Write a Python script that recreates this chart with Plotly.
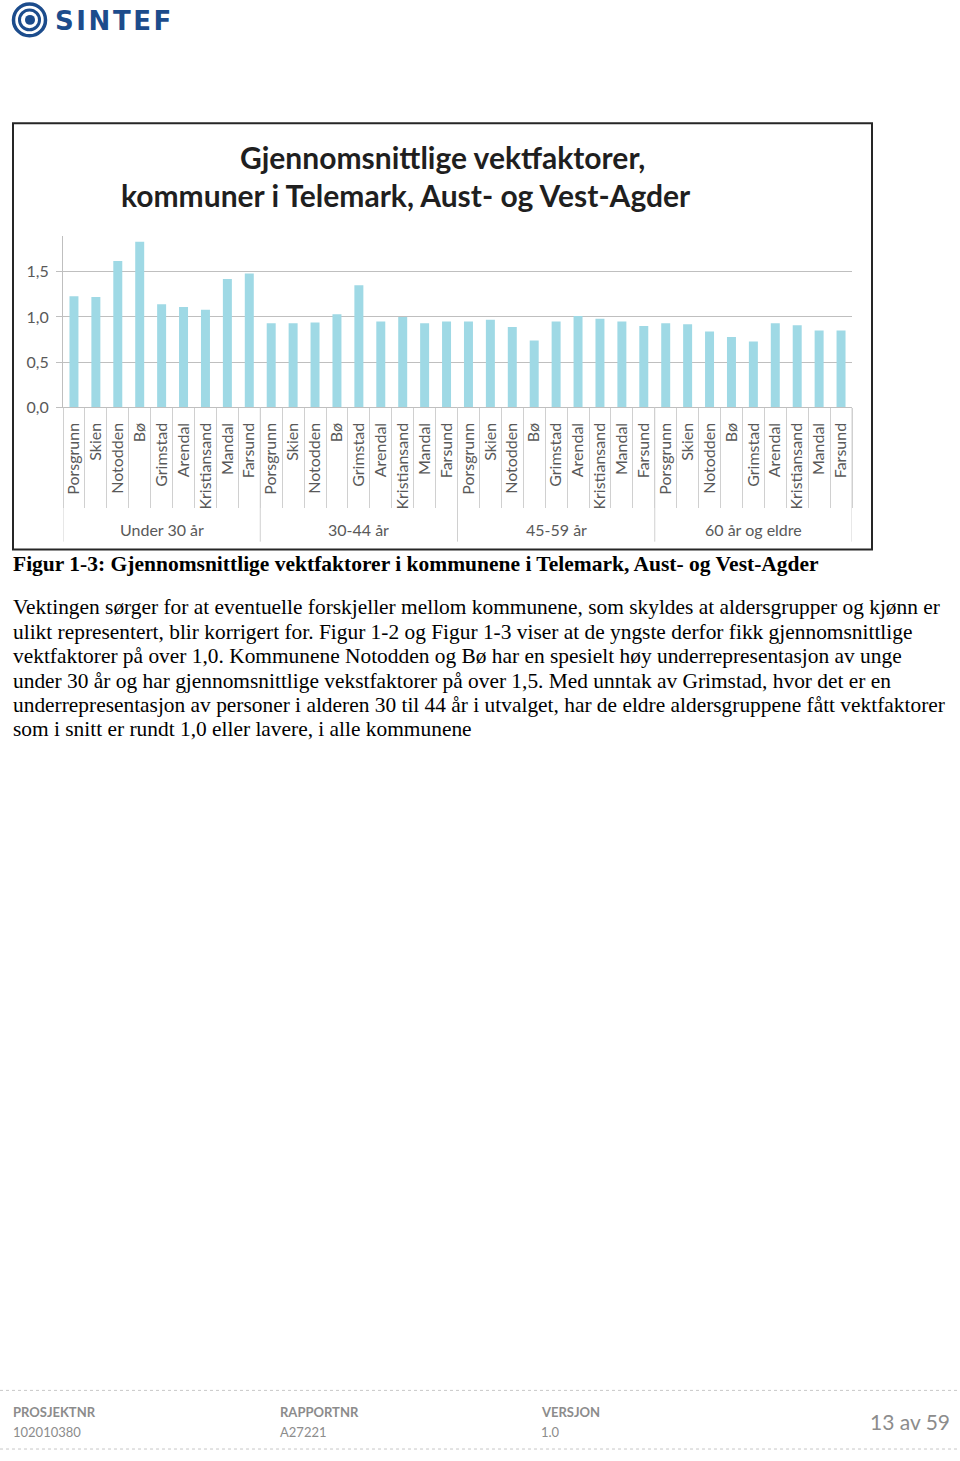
import plotly.graph_objects as go

# ---------------- data ----------------
age_groups = ["Under 30 år", "30-44 år", "45-59 år", "60 år og eldre"]
municipalities = ["Porsgrunn", "Skien", "Notodden", "Bø", "Grimstad",
                  "Arendal", "Kristiansand", "Mandal", "Farsund"]
under_30 = [1.23, 1.22, 1.62, 1.83, 1.14, 1.11, 1.08, 1.42, 1.48]
age_30_44 = [0.93, 0.93, 0.94, 1.03, 1.35, 0.95, 1.00, 0.93, 0.95]
age_45_59 = [0.95, 0.97, 0.89, 0.74, 0.95, 1.01, 0.98, 0.95, 0.90]
age_60_plus = [0.93, 0.92, 0.84, 0.78, 0.73, 0.93, 0.91, 0.85, 0.85]
y_ticks = [0.0, 0.5, 1.0, 1.5]

title_lines = ["Gjennomsnittlige vektfaktorer,",
               "kommuner i Telemark, Aust- og Vest-Agder"]
caption = "Figur 1-3: Gjennomsnittlige vektfaktorer i kommunene i Telemark, Aust- og Vest-Agder"
paragraph = [
    "Vektingen sørger for at eventuelle forskjeller mellom kommunene, som skyldes at aldersgrupper og kjønn er",
    "ulikt representert, blir korrigert for. Figur 1-2 og Figur 1-3 viser at de yngste derfor fikk gjennomsnittlige",
    "vektfaktorer på over 1,0. Kommunene Notodden og Bø har en spesielt høy underrepresentasjon av unge",
    "under 30 år og har gjennomsnittlige vekstfaktorer på over 1,5. Med unntak av Grimstad, hvor det er en",
    "underrepresentasjon av personer i alderen 30 til 44 år i utvalget, har de eldre aldersgruppene fått vektfaktorer",
    "som i snitt er rundt 1,0 eller lavere, i alle kommunene",
]
footer_labels = ["PROSJEKTNR", "RAPPORTNR", "VERSJON"]
footer_values = ["102010380", "A27221", "1.0"]
page_text = "13 av 59"

# ---------------- page geometry ----------------
W, H = 960, 1461


def px(x):
    return x / W


def py(y):
    return 1 - y / H


series = [under_30, age_30_44, age_45_59, age_60_plus]
values = [v for s in series for v in s]
labels = [m for _ in age_groups for m in municipalities]
xs = list(range(len(values)))
n_per = len(municipalities)

CHART_FONT = "Lato, Carlito, Calibri, sans-serif"
SERIF = "Liberation Serif, Times New Roman, serif"
GRID = "#BFBFBF"
LABEL = "#595959"

fig = go.Figure()
fig.add_trace(go.Bar(x=xs, y=values, marker=dict(color="#9FD9E5", line=dict(width=0)),
                     width=0.41, hoverinfo="y"))

x_dom = [px(63), px(852)]
y_dom = [py(410), py(237)]

fig.update_layout(
    width=W, height=H,
    margin=dict(l=0, r=0, t=0, b=0),
    paper_bgcolor="white", plot_bgcolor="white",
    separators=",.",
    showlegend=False,
    xaxis=dict(
        domain=x_dom, range=[-0.5, len(values) - 0.5],
        tickmode="array", tickvals=xs, ticktext=labels, tickangle=-90,
        ticks="", showgrid=False, zeroline=False,
        showline=True, linecolor=GRID, linewidth=1,
        tickfont=dict(family=CHART_FONT, size=16, color=LABEL),
        ticklabelstandoff=8,
        minor=dict(tickmode="array",
                   tickvals=[i - 0.5 for i in range(len(values) + 1)],
                   ticks="outside", ticklen=100, tickcolor="#D0D0D0", tickwidth=1,
                   showgrid=False),
    ),
    yaxis=dict(
        domain=y_dom, range=[0, 1.9],
        tickmode="array", tickvals=y_ticks, tickformat=".1f",
        ticks="outside", ticklen=6, tickcolor=GRID,
        showgrid=True, gridcolor=GRID, gridwidth=1,
        zeroline=False, showline=True, linecolor=GRID, linewidth=1,
        tickfont=dict(family=CHART_FONT, size=16, color=LABEL),
        ticklabelstandoff=4,
    ),
)

shapes = []
annotations = []

# group dividers and group labels
for g in range(len(age_groups) + 1):
    xb = g * n_per - 0.5
    shapes.append(dict(type="line", xref="x", yref="paper", x0=xb, x1=xb,
                       y0=py(410), y1=py(545), line=dict(color="#D0D0D0", width=1)))
for g, name in enumerate(age_groups):
    xc = g * n_per + (n_per - 1) / 2
    annotations.append(dict(x=xc, xref="x", y=py(533), yref="paper", text=name,
                            showarrow=False, xanchor="center", yanchor="middle",
                            font=dict(family=CHART_FONT, size=16, color=LABEL)))

# chart border
shapes.append(dict(type="rect", xref="paper", yref="paper",
                   x0=px(13), x1=px(872), y0=py(553), y1=py(124),
                   line=dict(color="#262626", width=2)))

# chart title (second line sits left of centre, as in the original)
title_x = [442, 406]
for i, t in enumerate(title_lines):
    annotations.append(dict(x=px(title_x[i]), y=py(158 + i * 38), xref="paper", yref="paper",
                            text="<b>%s</b>" % t, showarrow=False,
                            xanchor="center", yanchor="middle",
                            font=dict(family=CHART_FONT, size=30, color="#1F1F1F")))

# caption
annotations.append(dict(x=px(11), y=py(567), xref="paper", yref="paper",
                        text="<b>%s</b>" % caption, showarrow=False,
                        xanchor="left", yanchor="middle",
                        font=dict(family=SERIF, size=21.5, color="black")))

# paragraph lines
para_y = [611, 635.5, 660, 685, 709.5, 734]
for t, yy in zip(paragraph, para_y):
    annotations.append(dict(x=px(11), y=py(yy), xref="paper", yref="paper",
                            text=t, showarrow=False, xanchor="left", yanchor="middle",
                            font=dict(family=SERIF, size=21.4, color="black")))

# logo
BLUE = "#1C4C8C"
shapes.append(dict(type="circle", xref="paper", yref="paper",
                   x0=px(13.5), x1=px(45.5), y0=py(36), y1=py(4),
                   line=dict(color=BLUE, width=3.5)))
shapes.append(dict(type="circle", xref="paper", yref="paper",
                   x0=px(19.5), x1=px(39.5), y0=py(30), y1=py(10),
                   line=dict(color=BLUE, width=3), fillcolor="white"))
shapes.append(dict(type="circle", xref="paper", yref="paper",
                   x0=px(25), x1=px(35), y0=py(25), y1=py(15),
                   line=dict(color=BLUE, width=0), fillcolor=BLUE))
annotations.append(dict(x=px(53), y=py(21), xref="paper", yref="paper",
                        text="<b>S\u200aI\u200aN\u200aT\u200aE\u200aF</b>", showarrow=False,
                        xanchor="left", yanchor="middle",
                        font=dict(family="DejaVu Sans, sans-serif", size=26, color=BLUE)))

# footer
for yy in (1399, 1458):
    shapes.append(dict(type="line", xref="paper", yref="paper", x0=0, x1=1,
                       y0=py(yy), y1=py(yy), line=dict(color="#C8C8C8", width=1, dash="dot")))
FOOT = "#8C8C8C"
for xx, lab, val in zip([11, 278, 539], footer_labels, footer_values):
    annotations.append(dict(x=px(xx), y=py(1421), xref="paper", yref="paper",
                            text="<b>%s</b>" % lab, showarrow=False,
                            xanchor="left", yanchor="middle",
                            font=dict(family=CHART_FONT, size=13, color=FOOT)))
    annotations.append(dict(x=px(xx), y=py(1441), xref="paper", yref="paper",
                            text=val, showarrow=False, xanchor="left", yanchor="middle",
                            font=dict(family=CHART_FONT, size=13, color=FOOT)))
annotations.append(dict(x=px(952), y=py(1430), xref="paper", yref="paper",
                        text=page_text, showarrow=False, xanchor="right", yanchor="middle",
                        font=dict(family=CHART_FONT, size=21, color=FOOT)))

fig.update_layout(shapes=shapes, annotations=annotations)
fig.write_html("out.html")
